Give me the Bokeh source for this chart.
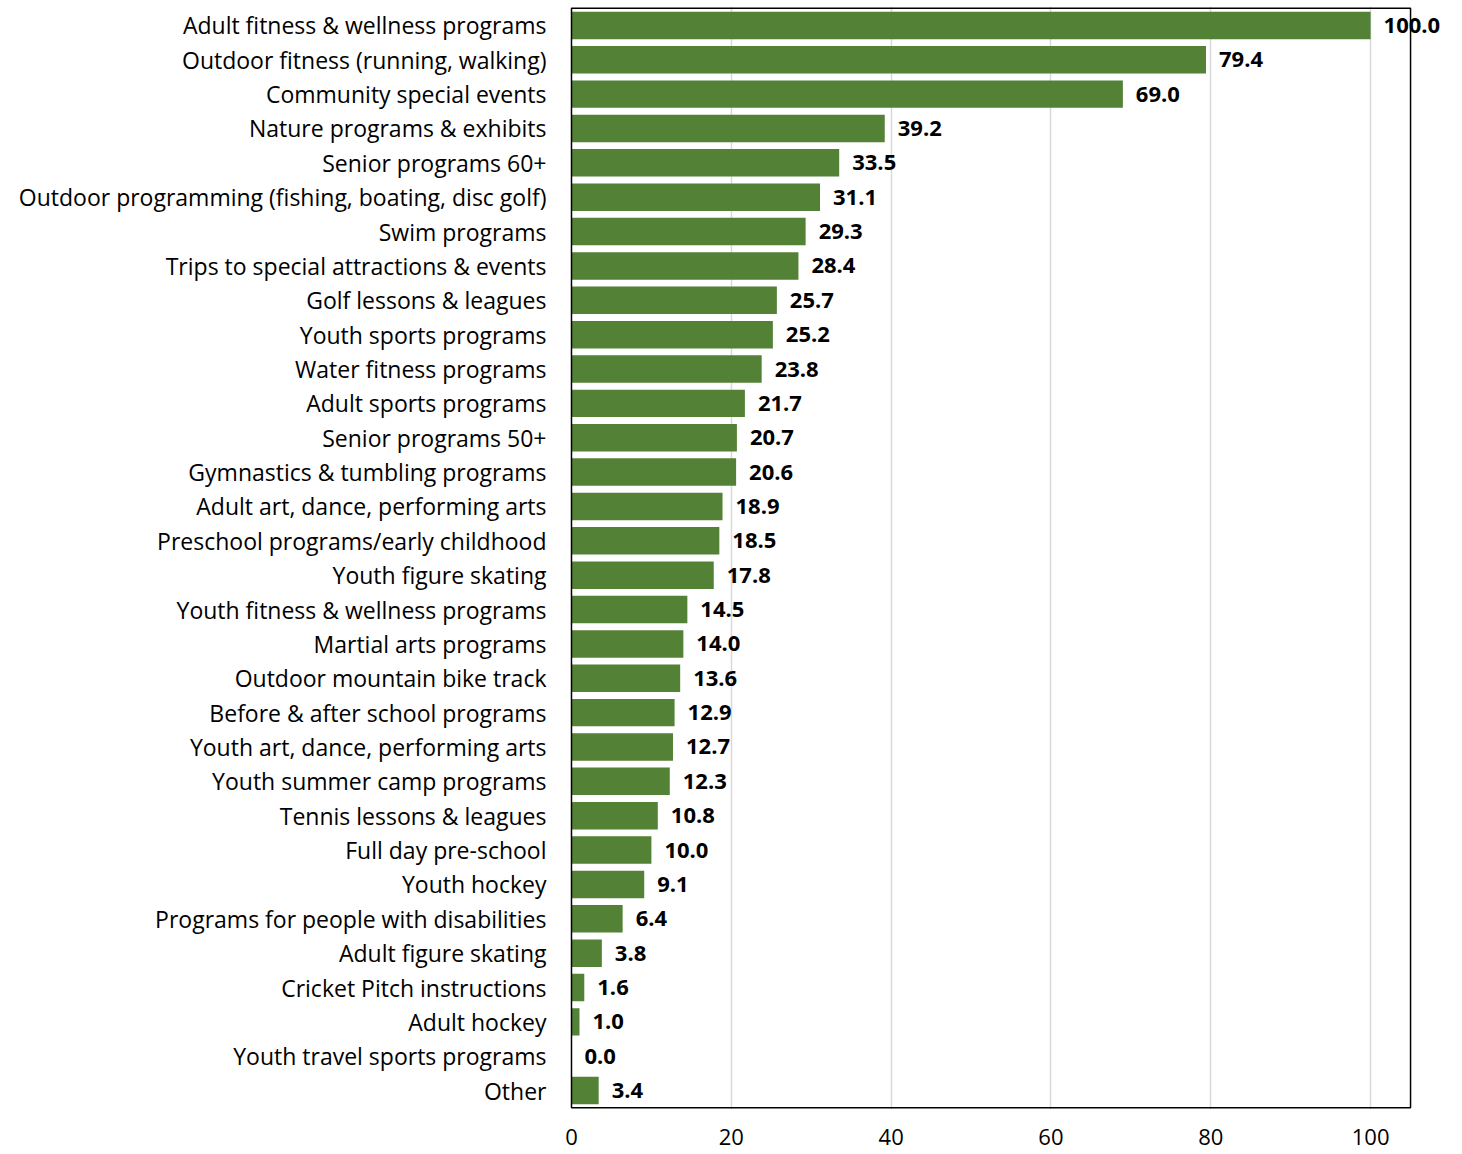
from bokeh.plotting import figure
from bokeh.models import (ColumnDataSource, FactorRange, Range1d, FixedTicker,
                          Label, BoxAnnotation)
from bokeh.embed import file_html
from bokeh.resources import INLINE

categories = [
    "Adult fitness & wellness programs",
    "Outdoor fitness (running, walking)",
    "Community special events",
    "Nature programs & exhibits",
    "Senior programs 60+",
    "Outdoor programming (fishing, boating, disc golf)",
    "Swim programs",
    "Trips to special attractions & events",
    "Golf lessons & leagues",
    "Youth sports programs",
    "Water fitness programs",
    "Adult sports programs",
    "Senior programs 50+",
    "Gymnastics & tumbling programs",
    "Adult art, dance, performing arts",
    "Preschool programs/early childhood",
    "Youth figure skating",
    "Youth fitness & wellness programs",
    "Martial arts programs",
    "Outdoor mountain bike track",
    "Before & after school programs",
    "Youth art, dance, performing arts",
    "Youth summer camp programs",
    "Tennis lessons & leagues",
    "Full day pre-school",
    "Youth hockey",
    "Programs for people with disabilities",
    "Adult figure skating",
    "Cricket Pitch instructions",
    "Adult hockey",
    "Youth travel sports programs",
    "Other",
]
values = [100.0, 79.4, 69.0, 39.2, 33.5, 31.1, 29.3, 28.4, 25.7, 25.2, 23.8,
          21.7, 20.7, 20.6, 18.9, 18.5, 17.8, 14.5, 14.0, 13.6, 12.9, 12.7,
          12.3, 10.8, 10.0, 9.1, 6.4, 3.8, 1.6, 1.0, 0.0, 3.4]
x_ticks = [0, 20, 40, 60, 80, 100]
x_axis_max = 105

FONT = "Open Sans"

src = ColumnDataSource(dict(cat=categories, val=values))

y_factors = list(reversed(categories))

# frame is a little larger than the drawn plot box so that the value label
# "100.0" can extend past the box's right edge (as in the reference)
p = figure(
    width=1462, height=1154,
    y_range=FactorRange(*y_factors, range_padding=0.05, range_padding_units="absolute"),
    x_range=Range1d(-0.25, 110),
    output_backend="svg", toolbar_location=None,
    min_border_left=569, min_border_right=12, min_border_top=6, min_border_bottom=45,
)

p.hbar(y="cat", right="val", left=0, height=0.8, source=src,
       fill_color="#538135", line_color=None)

for cat, v in zip(categories, values):
    p.add_layout(Label(x=v, y=y_factors.index(cat) + 0.5, text=f"{v:.1f}", x_offset=13,
                       text_baseline="middle", text_align="left",
                       text_font=FONT, text_font_style="bold",
                       text_font_size="22px", text_color="black"))

# plot-area border (0..105 in x, all categories in y)
p.add_layout(BoxAnnotation(left=0, right=x_axis_max, bottom=0, top=len(categories),
                           fill_alpha=0, line_color="black", line_width=1.5,
                           line_alpha=1.0))

p.xaxis.ticker = FixedTicker(ticks=x_ticks)
p.xaxis.major_tick_line_color = None
p.xaxis.minor_tick_line_color = None
p.xaxis.axis_line_color = None
p.xaxis.major_label_standoff = 13
p.xaxis.major_label_text_font = FONT
p.xaxis.major_label_text_font_size = "22px"
p.xaxis.major_label_text_color = "black"

p.yaxis.major_tick_line_color = None
p.yaxis.minor_tick_line_color = None
p.yaxis.axis_line_color = None
p.yaxis.major_label_standoff = 17
p.yaxis.major_label_text_font = FONT
p.yaxis.major_label_text_font_size = "23px"
p.yaxis.major_label_text_color = "black"

p.xgrid.grid_line_color = "#d9d9d9"
p.xgrid.grid_line_width = 1.5
p.xgrid.ticker = FixedTicker(ticks=[20, 40, 60, 80, 100])
p.ygrid.grid_line_color = None

p.outline_line_color = None
p.background_fill_color = "white"
p.border_fill_color = "white"

open("out.html", "w").write(file_html(p, INLINE))
